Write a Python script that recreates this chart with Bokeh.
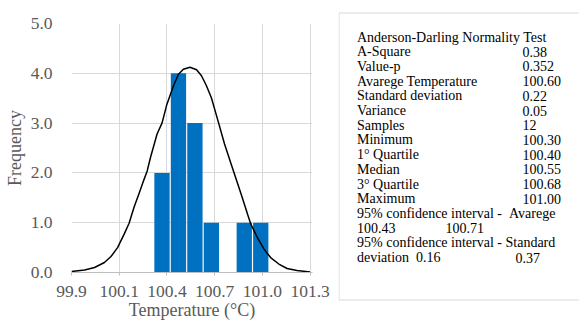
from bokeh.plotting import figure
from bokeh.models import Range1d, FixedTicker, ColumnDataSource
from bokeh.layouts import row
from bokeh.embed import file_html
from bokeh.resources import INLINE
from bokeh.core.properties import value

# ---------------- data ----------------
bin_centers = [100.41, 100.51, 100.61, 100.71, 100.81, 100.91, 101.01]
frequencies = [2, 4, 3, 1, 0, 1, 1]

curve_x = [99.86, 99.94, 100.00, 100.06, 100.10, 100.14, 100.18, 100.21, 100.24, 100.27,
           100.30, 100.32, 100.34, 100.38, 100.41, 100.44, 100.48, 100.51, 100.54, 100.58,
           100.62, 100.65, 100.68, 100.71, 100.75, 100.79, 100.83, 100.87, 100.90, 100.93,
           100.95, 100.99, 101.03, 101.07, 101.12, 101.17, 101.23, 101.31]
curve_y = [0.02, 0.05, 0.10, 0.20, 0.32, 0.50, 0.77, 0.99, 1.31, 1.58,
           1.86, 2.04, 2.31, 2.78, 3.00, 3.38, 3.75, 3.98, 4.08, 4.12,
           4.07, 3.95, 3.75, 3.51, 3.05, 2.58, 2.18, 1.78, 1.48, 1.17,
           0.97, 0.70, 0.47, 0.30, 0.17, 0.08, 0.04, 0.01]

x_ticks = [99.86, 100.15, 100.44, 100.73, 101.02, 101.31]
x_tick_labels = ["99.9", "100.1", "100.4", "100.7", "101.0", "101.3"]
y_ticks = [0, 1, 2, 3, 4, 5]
y_tick_labels = ["0.0", "1.0", "2.0", "3.0", "4.0", "5.0"]

x_title = "Temperature (°C)"
y_title = "Frequency"

test_title = "Anderson-Darling Normality Test"
stat_names = ["A-Square", "Value-p", "Avarege Temperature", "Standard deviation",
              "Variance", "Samples", "Minimum", "1° Quartile", "Median",
              "3° Quartile", "Maximum"]
stat_values = ["0.38", "0.352", "100.60", "0.22", "0.05", "12", "100.30",
               "100.40", "100.55", "100.68", "101.00"]
ci_mean_title = "95% confidence interval - \u00a0Avarege"
ci_mean = ["100.43", "100.71"]
ci_sd_title = "95% confidence interval - Standard"
ci_sd_label = "deviation"
ci_sd = ["0.16", "0.37"]

# ---------------- styles ----------------
SERIF = "Liberation Serif"
GRAY_TXT = "#595959"
GRID = "#d9d9d9"
BAR = "#0070C0"

H = 326
W1 = 338          # histogram canvas width
W2 = 579 - W1     # statistics box canvas width

# ---------------- histogram figure ----------------
p = figure(width=W1, height=H, output_backend="svg", toolbar_location=None,
           x_range=Range1d(99.86, 101.3246), y_range=Range1d(0, 5),
           min_border_left=71, min_border_right=26, min_border_top=23,
           min_border_bottom=54, frame_align=False)
p.outline_line_color = None

p.vbar(x=bin_centers, top=frequencies, width=0.093, fill_color=BAR, line_color=None)
p.line(curve_x, curve_y, line_color="black", line_width=1.5)

p.xaxis.ticker = FixedTicker(ticks=x_ticks)
p.xaxis.major_label_overrides = dict(zip(x_ticks, x_tick_labels))
p.xgrid.ticker = FixedTicker(ticks=x_ticks)
p.yaxis.ticker = FixedTicker(ticks=y_ticks)
p.yaxis.major_label_overrides = dict(zip(y_ticks, y_tick_labels))
p.ygrid.ticker = FixedTicker(ticks=y_ticks)

for g in (p.xgrid, p.ygrid):
    g.grid_line_color = GRID
    g.grid_line_width = 1

xa = p.xaxis[0]
ya = p.yaxis[0]
xa.axis_line_color = "#bfbfbf"
xa.major_tick_line_color = "#bfbfbf"
xa.major_tick_out = 3
xa.major_tick_in = 0
xa.minor_tick_line_color = None
xa.major_label_standoff = 10
xa.axis_label = x_title
xa.axis_label_standoff = 0

ya.axis_line_color = None
ya.major_tick_line_color = None
ya.minor_tick_line_color = None
ya.major_tick_out = 0
ya.major_tick_in = 0
ya.major_label_standoff = 19
ya.axis_label = y_title
ya.axis_label_standoff = 3

for ax in (xa, ya):
    ax.major_label_text_font = SERIF
    ax.major_label_text_font_size = "17.5px"
    ax.major_label_text_font_style = "normal"
    ax.major_label_text_color = GRAY_TXT
    ax.axis_label_text_font = SERIF
    ax.axis_label_text_font_size = "18px"
    ax.axis_label_text_font_style = "normal"
    ax.axis_label_text_color = GRAY_TXT

# ---------------- statistics box figure ----------------
q = figure(width=W2, height=H, output_backend="svg", toolbar_location=None,
           x_range=Range1d(0, W2), y_range=Range1d(H, 0),
           x_axis_type=None, y_axis_type=None, min_border=0,
           min_border_left=0, min_border_right=0, min_border_top=0,
           min_border_bottom=0, frame_align=False)
q.outline_line_color = None
q.grid.visible = False

q.quad(left=[0.5], right=[W2 + 10], top=[12.5], bottom=[299.5],
       fill_color="white", line_color=GRID, line_width=1)

BASE0, PITCH = 36.5, 14.7
TXT_X, VAL_X = 18.5, 184.0
left_lines = [test_title] + stat_names + [ci_mean_title, ci_mean[0], ci_sd_title,
                                          ci_sd_label + "\u00a0 " + ci_sd[0]]
lx, ly, lt = [], [], []
for i, t in enumerate(left_lines):
    lx.append(TXT_X); ly.append(BASE0 + PITCH * i); lt.append(t)
for i, t in enumerate(stat_values):
    lx.append(VAL_X); ly.append(BASE0 + PITCH * (i + 1)); lt.append(t)
lx.append(107.0); ly.append(BASE0 + PITCH * 13); lt.append(ci_mean[1])
lx.append(177.0); ly.append(BASE0 + PITCH * 15); lt.append(ci_sd[1])

src = ColumnDataSource(dict(x=lx, y=ly, text=lt))
q.text(x="x", y="y", text="text", source=src, text_font=value(SERIF),
       text_font_size="14px", text_color="black", text_baseline="alphabetic",
       text_align="left")

layout = row(p, q, spacing=0)
open("out.html", "w").write(file_html(layout, INLINE))
